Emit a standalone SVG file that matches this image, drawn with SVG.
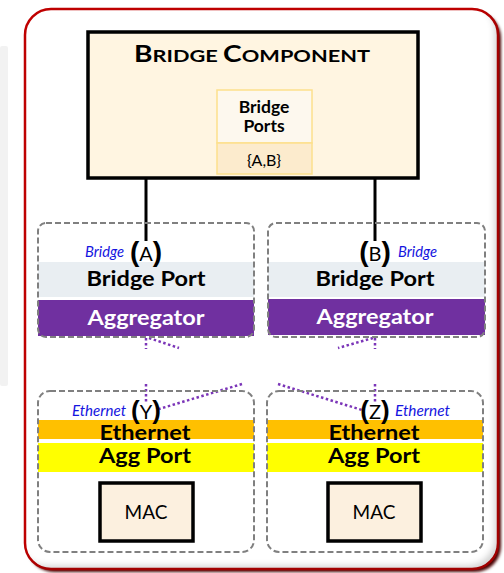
<svg xmlns="http://www.w3.org/2000/svg" width="504" height="573" viewBox="0 0 504 573">
<defs>
<filter id="inner" x="-5%" y="-5%" width="110%" height="110%">
<feFlood flood-color="#000" flood-opacity="0.35" result="f"/>
<feComposite in="f" in2="SourceAlpha" operator="out" result="o"/>
<feOffset in="o" dx="-5" dy="-5" result="oo"/>
<feGaussianBlur in="oo" stdDeviation="3" result="b"/>
<feComposite in="b" in2="SourceAlpha" operator="in" result="s"/>
<feMerge><feMergeNode in="SourceGraphic"/><feMergeNode in="s"/></feMerge>
</filter>
<filter id="shadow" x="-5%" y="-5%" width="110%" height="110%">
<feGaussianBlur stdDeviation="1.5"/>
</filter>
</defs>
<style>
.dash{fill:none;stroke:#808080;stroke-width:2;stroke-dasharray:6 3}
.bp{fill:#e9eef2}
.agg{fill:#7030a0}
.eth{fill:#ffc000}
.ap{fill:#ffff00}
.mac{fill:#fcf0df;stroke:#000;stroke-width:3.5}
.t{font-family:Lato,"Liberation Sans",sans-serif;text-anchor:middle}
.b{font-weight:bold}
.lbl{font-family:Lato,"Liberation Sans",sans-serif;font-style:italic;fill:#1515e0;font-size:15px}
.pl{font-family:Lato,"Liberation Sans",sans-serif;font-size:20px;text-anchor:middle}
.brk{font-family:"Liberation Sans",sans-serif;font-weight:bold;font-size:28px}
.brk2{font-family:"Liberation Sans",sans-serif;font-weight:bold;font-size:26px}
.wire{stroke:#000;stroke-width:3;fill:none}
.dot{stroke:#7b35b8;stroke-width:2.5;stroke-dasharray:2.5 2.5;fill:none}
</style>
<rect x="0" y="46" width="8" height="340" rx="2" fill="#f2f2f2"/>
<rect x="28" y="12" width="473" height="560" rx="26" fill="#4a0000" filter="url(#shadow)"/>
<rect x="25" y="9" width="473" height="560" rx="26" fill="#fff" stroke="#c00000" stroke-width="2.5" filter="url(#inner)"/>

<g id="bridge-component">
<rect x="88" y="32" width="330" height="146" fill="#fff5e1" stroke="#000" stroke-width="3.5"/>
<text class="t b" x="252" y="62" font-size="17" textLength="236" lengthAdjust="spacingAndGlyphs"><tspan font-size="22">B</tspan>RIDGE <tspan font-size="22">C</tspan>OMPONENT</text>
</g>
<g id="bridge-ports">
<rect x="217" y="90" width="95" height="53" fill="#fdf8ee" stroke="#fde08c" stroke-width="1.5"/>
<rect x="217" y="143" width="95" height="31" fill="#fcebcd" stroke="#fde08c" stroke-width="1.5"/>
<text class="t b" x="264" y="113" font-size="17.5">Bridge</text>
<text class="t b" x="264" y="132" font-size="17.5">Ports</text>
<text class="t" x="264" y="166" font-size="16">{A,B}</text>
</g>

<g id="connectors">
<line class="wire" x1="146" y1="178" x2="146" y2="241"/>
<line class="wire" x1="375" y1="178" x2="375" y2="241"/>
<line class="dot" x1="146" y1="338" x2="146" y2="349"/>
<line class="dot" x1="146" y1="384" x2="146" y2="403"/>
<line class="dot" x1="375" y1="338" x2="375" y2="349"/>
<line class="dot" x1="375" y1="384" x2="375" y2="403"/>
<line class="dot" x1="149" y1="338" x2="179" y2="348"/>
<line class="dot" x1="278" y1="384" x2="362" y2="410"/>
<line class="dot" x1="373" y1="338" x2="338" y2="348"/>
<line class="dot" x1="242" y1="384" x2="159" y2="409"/>
</g>

<g id="port-A">
<rect class="bp" x="38" y="262" width="216" height="35"/>
<rect class="agg" x="38" y="300" width="216" height="36"/>
<rect class="dash" x="38" y="223" width="216" height="114" rx="8"/>
<text class="t b" x="146" y="286" font-size="20" textLength="119" lengthAdjust="spacingAndGlyphs">Bridge Port</text>
<text class="t b" x="146" y="325" font-size="21" fill="#fff" textLength="117" lengthAdjust="spacingAndGlyphs">Aggregator</text>
<text class="lbl" x="85" y="257" textLength="39" lengthAdjust="spacingAndGlyphs">Bridge</text>
<text class="pl" x="146" y="261"><tspan class="brk">(</tspan>A<tspan class="brk">)</tspan></text>
</g>

<g id="port-B">
<rect class="bp" x="268" y="262" width="217" height="35"/>
<rect class="agg" x="268" y="299" width="217" height="36"/>
<rect class="dash" x="268" y="223" width="217" height="114" rx="8"/>
<text class="t b" x="375" y="286" font-size="20" textLength="119" lengthAdjust="spacingAndGlyphs">Bridge Port</text>
<text class="t b" x="375" y="324" font-size="21" fill="#fff" textLength="117" lengthAdjust="spacingAndGlyphs">Aggregator</text>
<text class="pl" x="375" y="261"><tspan class="brk">(</tspan>B<tspan class="brk">)</tspan></text>
<text class="lbl" x="398" y="257" textLength="39" lengthAdjust="spacingAndGlyphs">Bridge</text>
</g>

<g id="port-Y">
<rect class="eth" x="38" y="420" width="216" height="19"/>
<rect class="ap" x="38" y="443" width="216" height="29"/>
<rect class="dash" x="38" y="391" width="216" height="161" rx="12"/>
<text class="t b" x="145" y="440" font-size="21.5" textLength="91" lengthAdjust="spacingAndGlyphs">Ethernet</text>
<text class="t b" x="145" y="463" font-size="21" textLength="92" lengthAdjust="spacingAndGlyphs">Agg Port</text>
<text class="lbl" x="72" y="416" textLength="54" lengthAdjust="spacingAndGlyphs">Ethernet</text>
<text class="pl" x="146" y="419"><tspan class="brk2">(</tspan>Y<tspan class="brk2">)</tspan></text>
<rect class="mac" x="100" y="483" width="93" height="58"/>
<text class="t" x="146" y="519" font-size="19">MAC</text>
</g>

<g id="port-Z">
<rect class="eth" x="267" y="420" width="216" height="19"/>
<rect class="ap" x="267" y="443" width="216" height="29"/>
<rect class="dash" x="267" y="391" width="216" height="161" rx="12"/>
<text class="t b" x="374" y="440" font-size="21.5" textLength="91" lengthAdjust="spacingAndGlyphs">Ethernet</text>
<text class="t b" x="374" y="463" font-size="21" textLength="92" lengthAdjust="spacingAndGlyphs">Agg Port</text>
<text class="pl" x="375" y="419"><tspan class="brk2">(</tspan>Z<tspan class="brk2">)</tspan></text>
<text class="lbl" x="395" y="416" textLength="55" lengthAdjust="spacingAndGlyphs">Ethernet</text>
<rect class="mac" x="328" y="483" width="93" height="58"/>
<text class="t" x="374" y="519" font-size="19">MAC</text>
</g>
</svg>
